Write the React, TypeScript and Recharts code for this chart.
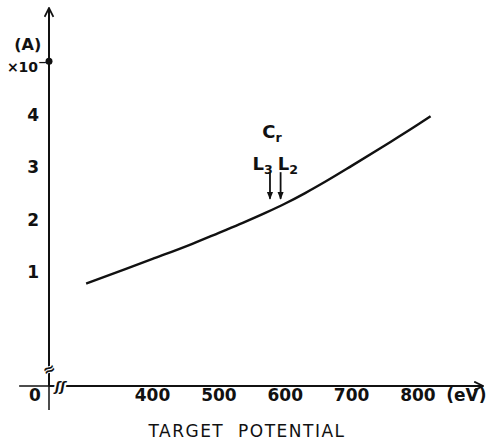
import React from 'react';
import { LineChart, Line, XAxis, YAxis, ReferenceLine, ReferenceDot } from 'recharts';

// target potential (eV) vs current (x10^-? A)
const targetPotential = [300, 360, 400, 460, 500, 536, 570, 600, 630, 662, 700, 750, 800, 819];
const current = [0.78, 1.06, 1.25, 1.54, 1.75, 1.94, 2.13, 2.31, 2.51, 2.74, 3.03, 3.42, 3.82, 3.98];

// broken axes: the origin "0" sits at the left end of the x range
const X_ORIGIN = 244;
const X_END = 898;
const Y_BOTTOM = -1.18;
const Y_TOP = 6.05;

const xTicks = [X_ORIGIN, 400, 500, 600, 700, 800, 873];
const xTickLabels: Record<number, string> = { [X_ORIGIN]: '0', 873: '(eV)' };
const yTicks = [1, 2, 3, 4];

// Cr L3 / L2 edge markers
const edgeArrows = [577, 593];
const edgeLabels = [
  { main: 'L', sub: '3', x: 566, y: 2.95 },
  { main: 'L', sub: '2', x: 604, y: 2.95 },
];

const data = targetPotential.map((x, i) => ({ x, y: current[i] }));

const FONT = '"DejaVu Sans", sans-serif';
const INK = '#111';

const XTick = (props: any) => {
  const { x, y, payload } = props;
  const v = payload.value;
  const label = xTickLabels[v] ?? String(v);
  const dx = v === X_ORIGIN ? -14 : 0;
  return (
    <text x={x + dx} y={y} dy="0.71em" textAnchor="middle" fontFamily={FONT} fontSize={17} fontWeight="bold" fill={INK}>
      {label}
    </text>
  );
};

const TextMark = ({ cx, cy, main, sub, size = 17, anchor = 'middle' }: any) => (
  <text x={cx} y={cy} textAnchor={anchor} fontFamily={FONT} fontSize={size} fontWeight="bold" fill={INK}>
    {main}
    {sub ? <tspan fontSize={size * 0.7} dy={4}>{sub}</tspan> : null}
  </text>
);

export default function App() {
  return (
    <div style={{ position: 'absolute', left: 0, top: 0, width: 491, height: 443, background: '#fff' }}>
      <svg width={0} height={0} style={{ position: 'absolute' }}>
        <defs>
          <marker id="chev" viewBox="0 0 10 10" refX="9" refY="5" markerWidth="11" markerHeight="11"
            orient="auto-start-reverse" markerUnits="userSpaceOnUse">
            <path d="M1,1 L9,5 L1,9" fill="none" stroke={INK} strokeWidth="1.6" />
          </marker>
          <marker id="head" viewBox="0 0 10 10" refX="9" refY="5" markerWidth="8" markerHeight="8"
            orient="auto" markerUnits="userSpaceOnUse">
            <path d="M0,1 L10,5 L0,9 z" fill={INK} />
          </marker>
        </defs>
      </svg>
      <LineChart width={491} height={443} data={data} margin={{ top: 8, right: 8, left: 0, bottom: 0 }}>
        <XAxis
          type="number"
          dataKey="x"
          domain={[X_ORIGIN, X_END]}
          ticks={xTicks}
          allowDataOverflow
          height={57}
          tickLine={false}
          tickSize={0}
          tickMargin={3}
          tick={<XTick />}
          axisLine={{ stroke: INK, strokeWidth: 1.8, markerEnd: 'url(#chev)' }}
          label={{
            content: ({ viewBox }: any) => (
              <text x={viewBox.x + viewBox.width / 2 - 19} y={viewBox.y + viewBox.height - 6}
                textAnchor="middle" fontFamily={FONT} fontSize={17} fill={INK} letterSpacing={1.5}
                style={{ whiteSpace: 'pre' }}>
                {'TARGET  POTENTIAL'}
              </text>
            ),
          }}
        />
        <YAxis
          type="number"
          domain={[Y_BOTTOM, Y_TOP]}
          ticks={yTicks}
          allowDataOverflow
          width={49}
          tickLine={false}
          tickSize={0}
          tickMargin={10}
          tick={{ fontFamily: FONT, fontSize: 17, fontWeight: 'bold', fill: INK }}
          axisLine={{ stroke: INK, strokeWidth: 2, markerStart: 'url(#chev)' }}
        />

        {/* axis extensions past the origin */}
        <ReferenceLine ifOverflow="visible" stroke={INK} strokeWidth={1.5}
          segment={[{ x: 199, y: Y_BOTTOM }, { x: X_ORIGIN, y: Y_BOTTOM }]} />
        <ReferenceLine ifOverflow="visible" stroke={INK} strokeWidth={1.5}
          segment={[{ x: X_ORIGIN, y: Y_BOTTOM }, { x: X_ORIGIN, y: -1.64 }]} />

        {/* break marks */}
        <ReferenceDot ifOverflow="visible" x={X_ORIGIN} y={-0.86}
          shape={(p: any) => (
            <text x={p.cx} y={p.cy + 5} textAnchor="middle" fontFamily={FONT} fontSize={15} fontWeight="bold" fill={INK}
              transform={`rotate(-25 ${p.cx} ${p.cy})`} stroke="#fff" strokeWidth={2} paintOrder="stroke">≈</text>
          )} />
        <ReferenceDot ifOverflow="visible" x={261} y={Y_BOTTOM}
          shape={(p: any) => (
            <text x={p.cx} y={p.cy + 5} textAnchor="middle" fontFamily={FONT} fontSize={13} fontWeight="bold" fill={INK}
              stroke="#fff" strokeWidth={4} paintOrder="stroke" fontStyle="italic">ʃʃ</text>
          )} />

        {/* y unit */}
        <ReferenceDot ifOverflow="visible" x={212} y={5.36}
          shape={(p: any) => <TextMark cx={p.cx} cy={p.cy + 6} main="(A)" size={16} />} />
        <ReferenceDot ifOverflow="visible" x={211} y={4.94}
          shape={(p: any) => (
            <text x={p.cx} y={p.cy + 6} textAnchor="middle" fontFamily={FONT} fontSize={14} fontWeight="bold" fill={INK}>
              ×10<tspan fontSize={11} dy={-6}>−</tspan>
            </text>
          )} />
        <ReferenceDot ifOverflow="visible" x={X_ORIGIN} y={5.03} r={3.5} fill={INK} stroke="none" />

        {/* Cr L edges */}
        <ReferenceDot ifOverflow="visible" x={580} y={3.56}
          shape={(p: any) => <TextMark cx={p.cx} cy={p.cy} main="C" sub="r" size={18} />} />
        {edgeLabels.map((e) => (
          <ReferenceDot key={e.sub} ifOverflow="visible" x={e.x} y={e.y}
            shape={(p: any) => <TextMark cx={p.cx} cy={p.cy} main={e.main} sub={e.sub} size={18} />} />
        ))}
        {edgeArrows.map((ev) => (
          <ReferenceLine key={ev} ifOverflow="visible" stroke={INK} strokeWidth={1.8} markerEnd="url(#head)"
            segment={[{ x: ev, y: 2.91 }, { x: ev, y: 2.4 }]} />
        ))}

        <Line type="monotone" dataKey="y" stroke={INK} strokeWidth={2.4} dot={false} isAnimationActive={false} />
      </LineChart>
    </div>
  );
}
